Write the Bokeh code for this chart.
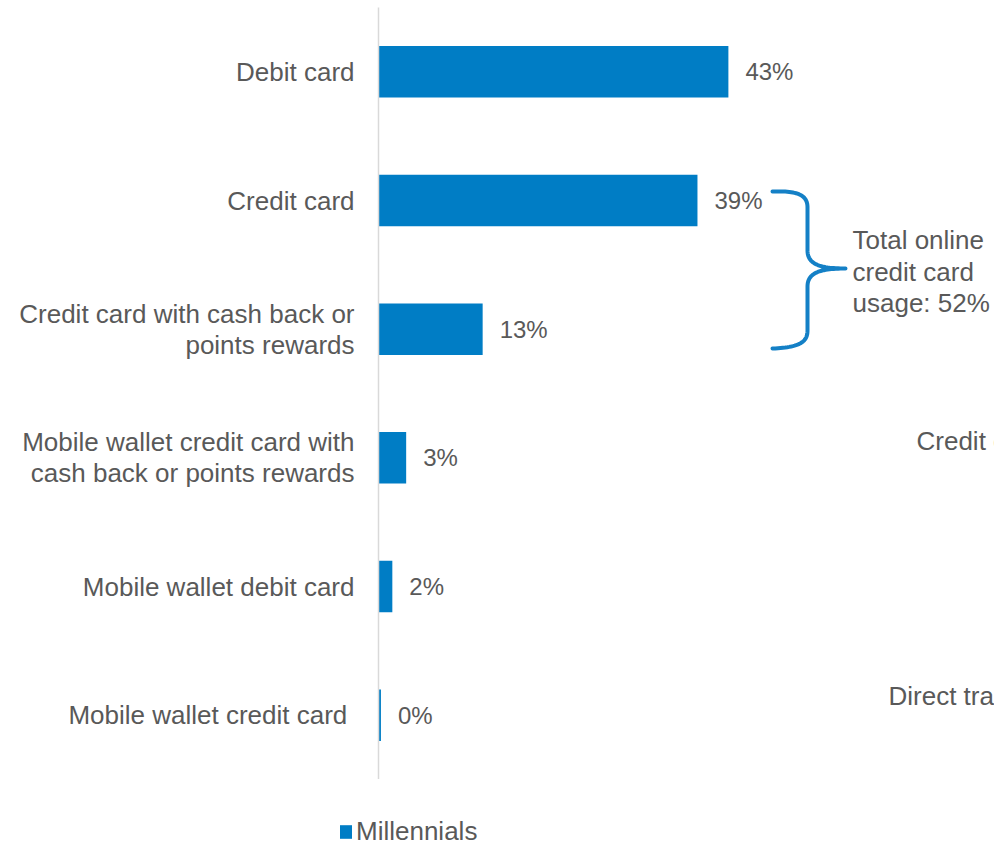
import numpy as np
from bokeh.plotting import figure
from bokeh.layouts import column
from bokeh.models import Range1d, FixedTicker, Legend, LegendItem, ColumnDataSource
from bokeh.core.properties import value
from bokeh.embed import file_html
from bokeh.resources import INLINE

# ---- data ----
categories = [
    "Debit card",
    "Credit card",
    "Credit card with cash back or\npoints rewards",
    "Mobile wallet credit card with\ncash back or points rewards",
    "Mobile wallet debit card",
    "Mobile wallet credit card\u00a0",
]
millennials = [43.0, 39.2, 12.8, 3.4, 1.7, 0.3]
value_labels = ["43%", "39%", "13%", "3%", "2%", "0%"]
series_name = "Millennials"
bracket_note = "Total online\ncredit card\nusage: 52%"
side_texts = ["Credit card", "Direct transfer"]

# ---- style / layout ----
BLUE = "#007DC5"
BRACE = "#1480C6"
GREY = "#595959"
FONT = "Liberation Sans"
W, H = 994, 843
LEG_H = 64
PH = H - LEG_H
LEFT, TOP = 378, 7
X_END = (W - LEFT) / 8.137

p = figure(width=W, height=PH, x_range=Range1d(0, X_END), y_range=Range1d(5.5, -0.5),
           output_backend="svg", toolbar_location=None,
           min_border_left=LEFT, min_border_right=0, min_border_top=TOP,
           min_border_bottom=0, outline_line_color=None)
p.frame_align = False
p.xaxis.visible = False
p.grid.visible = False

ys = list(range(len(categories)))
src = ColumnDataSource(dict(y=ys, v=millennials, lbl=value_labels))
r = p.hbar(y="y", right="v", left=0, height=0.4, source=src,
           fill_color=BLUE, line_color=None)
p.text(x="v", y="y", text="lbl", source=src, x_offset=17, text_align="left",
       text_baseline="middle", text_font_size="24px", text_color=GREY,
       text_font=value(FONT))

ax = p.yaxis[0]
ax.ticker = FixedTicker(ticks=ys)
ax.major_label_overrides = {i: c for i, c in zip(ys, categories)}
ax.axis_line_color = "#d9d9d9"
ax.axis_line_width = 1.5
ax.major_tick_line_color = None
ax.minor_tick_line_color = None
ax.major_label_standoff = 18
ax.major_label_text_font_size = "26px"
ax.major_label_text_color = GREY
ax.major_label_text_font = FONT
ax.major_label_text_line_height = 1.03

# brace (pixel design -> data units)
def dx(px):
    return (px - LEFT) / 8.137

def dy(py):
    return (py - TOP) / ((PH - TOP) / 6.0) - 0.5

def cubic(p0, c1, c2, p3, n=30):
    t = np.linspace(0, 1, n)[:, None]
    pts = ((1 - t) ** 3) * np.array(p0) + 3 * ((1 - t) ** 2) * t * np.array(c1) \
        + 3 * (1 - t) * t ** 2 * np.array(c2) + t ** 3 * np.array(p3)
    return pts

segs = [
    cubic((772, 191), (800, 190), (807, 196), (807, 207)),
    cubic((807, 250), (807, 264), (820, 268), (845, 268)),
    cubic((845, 268), (820, 268), (807, 272), (807, 286)),
    cubic((807, 330), (807, 341), (800, 347), (772, 348)),
]
pts = np.vstack(segs)
p.line(x=[dx(a) for a in pts[:, 0]], y=[dy(b) for b in pts[:, 1]],
       line_color=BRACE, line_width=4, line_cap="round", line_join="round")

p.text(x=[dx(852)], y=[dy(271)], text=[bracket_note], text_align="left",
       text_baseline="middle", text_font_size="26px", text_color=GREY,
       text_font=value(FONT), text_line_height=1.05)
p.text(x=[dx(916), dx(888)], y=[dy(440), dy(695)], text=side_texts,
       text_align="left", text_baseline="middle", text_font_size="26px",
       text_color=GREY, text_font=value(FONT))

# legend strip (legend glyph style comes from a hidden swatch renderer)
q = figure(width=W, height=LEG_H, x_range=Range1d(0, 1), y_range=Range1d(0, 1),
           output_backend="svg", toolbar_location=None, min_border=0,
           outline_line_color=None)
q.frame_align = False
q.axis.visible = False
q.grid.visible = False
rq = q.hbar(y=[-10], right=[1], left=0, height=0.4, fill_color=BLUE, line_color=None)
legend = Legend(items=[LegendItem(label=series_name, renderers=[rq])],
                location=(338, -4), orientation="horizontal",
                glyph_width=15, glyph_height=17, label_standoff=3,
                padding=0, margin=0, border_line_color=None,
                background_fill_alpha=0, label_text_font_size="26px",
                label_text_color=GREY, label_text_font=FONT)
q.add_layout(legend)

layout = column(p, q, spacing=0)
open("out.html", "w").write(file_html(layout, INLINE))
